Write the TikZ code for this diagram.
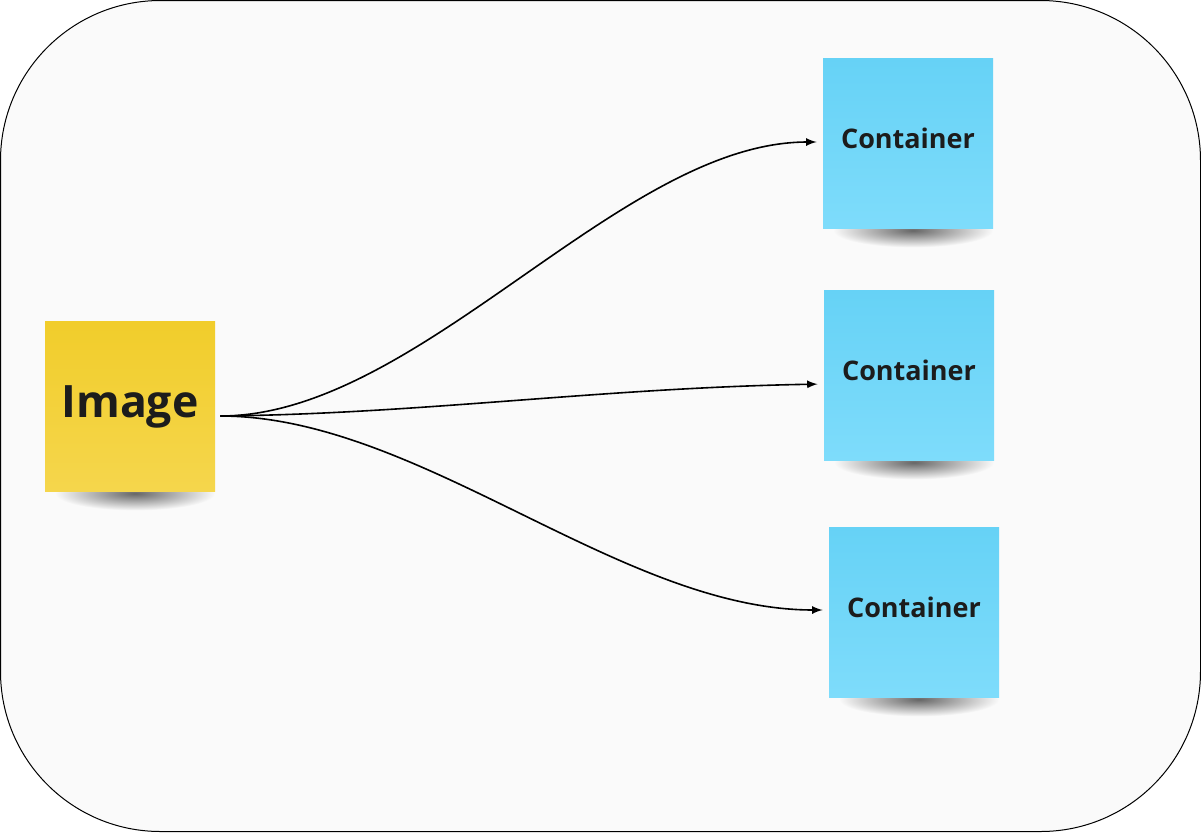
\documentclass[tikz,border=0pt]{standalone}
\usepackage{fontspec}
\setmainfont{Open Sans}
\usepackage{tikz}
\usetikzlibrary{positioning, arrows, calc}

\definecolor{board}{HTML}{FAFAFA}
\definecolor{noteyellowtop}{HTML}{F1CD2B}
\definecolor{noteyellowbot}{HTML}{F5D64C}
\definecolor{notebluetop}{HTML}{66D2F6}
\definecolor{notebluebot}{HTML}{7EDCFB}
\definecolor{inkdark}{HTML}{1C1C1C}

\pgfdeclarelayer{boardlayer}
\pgfdeclarelayer{shadowlayer}
\pgfsetlayers{boardlayer,shadowlayer,main}

\tikzset{
    note/.style={
        minimum width=85pt, minimum height=85pt, inner sep=0pt,
        text=inkdark},
    imagenote/.style={note, top color=noteyellowtop, bottom color=noteyellowbot,
        font=\fontsize{22.3}{26}\selectfont\bfseries, text depth=4pt},
    containernote/.style={note, top color=notebluetop, bottom color=notebluebot,
        font=\fontsize{13.5}{16}\selectfont\bfseries, text depth=5pt},
    noteshadow/.style={inner color=black!60, outer color=board},
    flow/.style={black, line width=0.8pt, -latex, shorten >=3pt}
}

\begin{document}
\begin{tikzpicture}[x=0.5pt, y=-0.5pt]
    \useasboundingbox (0,0) rectangle (1201,832);

    % board
    \begin{pgfonlayer}{boardlayer}
    \draw[black, line width=0.5pt, fill=board, rounded corners=80pt]
        (0.5,0.5) rectangle (1200.5,831.5);
    \end{pgfonlayer}

    % notes
    \node[imagenote] (image) at (130,406) {Image};
    \foreach \name/\x/\y in {c1/908/143, c2/909/375, c3/914/612}
    {
        \node[containernote] (\name) at (\x,\y) {Container};
    }

    % shadows under the notes
    \begin{pgfonlayer}{shadowlayer}
    \foreach \name in {image, c1, c2, c3}
    {
        \shade[noteshadow] ($(\name.south)+(5,2)$) ellipse (80 and 17);
    }
    \end{pgfonlayer}

    \coordinate (fork) at ($(image.east)+(5,10)$);

    % connectors
    \draw[flow] (fork) .. controls (420,416) and (620,142) .. ([yshift=0.5pt]c1.west);
    \draw[flow] (fork) .. controls (420,414) and (600,388) .. ([yshift=-4.5pt]c2.west);
    \draw[flow] (fork) .. controls (420,416) and (620,610) .. ([yshift=1pt]c3.west);
\end{tikzpicture}
\end{document}
